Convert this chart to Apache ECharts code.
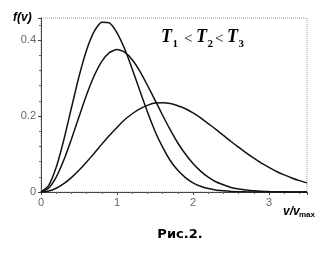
<!DOCTYPE html>
<html><head><meta charset="utf-8">
<script src="https://cdn.jsdelivr.net/npm/echarts@6/dist/echarts.min.js"></script>
<style>html,body{margin:0;padding:0;background:#fff}#c{width:332px;height:255px}</style>
</head><body><div id="c"></div>
<script>
// v / v_max values (x)
const velocity = [0,0.1,0.2,0.3,0.4,0.5,0.6,0.7,0.8,0.9,1.0,1.1,1.2,1.3,1.4,1.5,1.6,1.7,1.8,1.9,2.0,2.1,2.2,2.3,2.4,2.5,2.6,2.7,2.8,2.9,3.0,3.1,3.2,3.3,3.4,3.5];
// f(v) for T1, T2, T3
const fT1 = [0,0.017,0.065,0.137,0.221,0.304,0.374,0.423,0.447,0.445,0.419,0.377,0.324,0.267,0.211,0.160,0.118,0.083,0.057,0.038,0.024,0.015,0.009,0.005,0.003,0.0015,0.0008,0.0004,0.0002,0.0001,0,0,0,0,0,0];
const fT2 = [0,0.010,0.039,0.084,0.139,0.198,0.256,0.306,0.344,0.367,0.375,0.368,0.348,0.318,0.281,0.242,0.202,0.164,0.129,0.100,0.075,0.055,0.039,0.027,0.019,0.012,0.008,0.005,0.003,0.002,0.0011,0.0007,0.0004,0.0002,0.0001,0.0001];
const fT3 = [0,0.0025,0.010,0.022,0.038,0.057,0.079,0.102,0.126,0.149,0.170,0.190,0.206,0.219,0.228,0.234,0.235,0.233,0.227,0.219,0.208,0.195,0.180,0.165,0.149,0.133,0.118,0.103,0.089,0.076,0.065,0.054,0.045,0.037,0.030,0.024];
const seriesNames = ['T1','T2','T3'];
const xTickLabels = ['0','1','2','3'];
const yTickLabels = ['0','0.2','0.4'];

function pairs(ys){ return velocity.map((v,i)=>[v, ys[i]]); }

const chart = echarts.init(document.getElementById('c'), null, {renderer:'canvas'});
const lineStyle = {color:'#111', width:1.5};
function t(x, y, text, style){
  return {type:'text', x:x, y:y, style:Object.assign({text:text, fill:'#000', verticalAlign:'middle', align:'left'}, style)};
}
const big = {font:'italic bold 18px "Liberation Serif"'};
const sub = {font:'bold 11px "Liberation Serif"'};
const op = {font:'15px "Liberation Serif"'};

chart.setOption({
  animation:false,
  backgroundColor:'#fff',
  grid:{left:41, top:18, right:25, bottom:63, show:true, borderColor:'#9a9a9a', borderWidth:1, borderType:'dotted', outerBoundsMode:'none'},
  xAxis:{
    type:'value', min:0, max:3.5, interval:1,
    axisLine:{show:true, onZero:false, lineStyle:{color:'#444', width:1}},
    axisTick:{show:true, length:3, lineStyle:{color:'#444'}},
    minorTick:{show:true, splitNumber:5, length:2, lineStyle:{color:'#666'}},
    splitLine:{show:false},
    axisLabel:{color:'#666', fontSize:11, fontFamily:'Liberation Sans', margin:5,
      formatter:function(v){ const i = xTickLabels.indexOf(String(v)); return i>=0 ? xTickLabels[i] : ''; }}
  },
  yAxis:{
    type:'value', min:0, max:0.458, interval:0.2,
    axisLine:{show:true, onZero:false, lineStyle:{color:'#444', width:1}},
    axisTick:{show:true, length:3, lineStyle:{color:'#444'}},
    minorTick:{show:true, splitNumber:5, length:2, lineStyle:{color:'#666'}},
    splitLine:{show:false},
    axisLabel:{color:'#666', fontSize:11, fontFamily:'Liberation Sans', margin:5, showMaxLabel:false,
      formatter:function(v){ const s = (Math.round(v*10)/10).toString(); return yTickLabels.indexOf(s)>=0 ? s : ''; }}
  },
  series:[fT1,fT2,fT3].map((d,i)=>({
    name:seriesNames[i], type:'line', data:pairs(d), showSymbol:false, smooth:0.2,
    lineStyle:lineStyle, clip:true, z:3
  })),
  graphic:[
    t(13, 17.5, 'f(v)', {font:'italic bold 12px "Liberation Sans"'}),
    t(161, 37.8, 'T', big), t(172.5, 44, '1', sub),
    t(184, 39, '<', op),
    t(196, 37.8, 'T', big), t(207.5, 44, '2', sub),
    t(215, 39, '<', op),
    t(227, 37.8, 'T', big), t(238.5, 44, '3', sub),
    t(283, 211.5, 'v/v', {font:'italic bold 12px "Liberation Sans"'}),
    t(299, 214.5, 'max', {font:'bold 8px "Liberation Sans"'}),
    t(180, 234.5, 'Рис.2.', {font:'bold 13px "DejaVu Sans"', align:'center'})
  ]
});
</script>
</body></html>
